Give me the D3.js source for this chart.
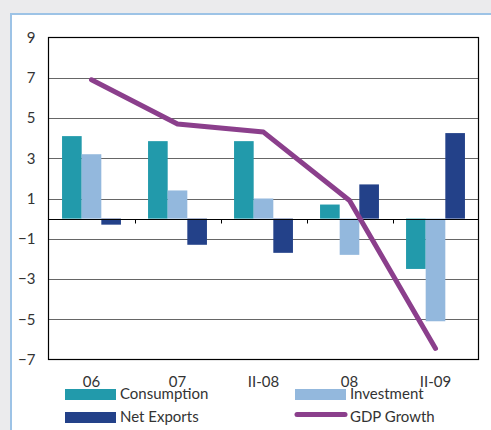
<!DOCTYPE html>
<html><head><meta charset="utf-8">
<script src="https://cdn.jsdelivr.net/npm/d3@7"></script>
<style>
html,body{margin:0;padding:0;background:#ebebed;}
svg{display:block;}
text{font-family:Lato,"Noto Sans",sans-serif;fill:#333;}
</style></head>
<body>
<svg id="c" width="491" height="430"></svg>
<script>
const categories = ["06","07","II-08","08","II-09"];
const consumption = [4.1, 3.85, 3.85, 0.7, -2.5];
const investment = [3.2, 1.4, 1.0, -1.8, -5.1];
const netExports = [-0.3, -1.3, -1.7, 1.7, 4.25];
const gdpGrowth = [6.9, 4.7, 4.3, 0.9, -6.45];
const yTicks = [9,7,5,3,1,-1,-3,-5,-7];

const seriesNames = ["Consumption","Investment","Net Exports"];
const seriesData = [consumption, investment, netExports];
const colors = ["#229aab","#93b8dd","#234189"];
const lineColor = "#8b3f8c";

const svg = d3.select("#c");
// panel
svg.append("rect").attr("x",0).attr("y",0).attr("width",491).attr("height",430).attr("fill","#ebebed");
svg.append("rect").attr("x",11).attr("y",14).attr("width",500).attr("height",440)
  .attr("fill","#fff").attr("stroke","#9dc3e6").attr("stroke-width",2);

const L=48.5, R=478.5, T=37.5, B=359.5;
const x = d3.scaleBand().domain(categories).range([L,R]).paddingInner(0.315).paddingOuter(0.1575);
const y = d3.scaleLinear().domain([-7,9]).range([B,T]);
const xs = d3.scaleBand().domain(d3.range(3)).range([0,x.bandwidth()]);

// gridlines
svg.append("g").selectAll("line").data(yTicks.filter(v=>v!==9&&v!==-7)).join("line")
  .attr("x1",L).attr("x2",R).attr("y1",d=>Math.round(y(d))+0.5).attr("y2",d=>Math.round(y(d))+0.5)
  .attr("stroke","#666").attr("stroke-width",1.2);

// bars
const g = svg.append("g");
seriesData.forEach((arr,si)=>{
  g.selectAll(null).data(arr).join("rect")
    .attr("x",(d,i)=>x(categories[i])+xs(si))
    .attr("width",xs.bandwidth())
    .attr("y",d=>y(Math.max(0,d)))
    .attr("height",d=>Math.abs(y(d)-y(0)))
    .attr("fill",colors[si]);
});

// frame
svg.append("rect").attr("x",L).attr("y",T).attr("width",R-L).attr("height",B-T)
  .attr("fill","none").attr("stroke","#000").attr("stroke-width",1.2);

// zero axis with ticks
const y0 = Math.round(y(0))+0.5;
svg.append("line").attr("x1",L).attr("x2",R).attr("y1",y0).attr("y2",y0).attr("stroke","#000").attr("stroke-width",1.2);
const bounds = categories.slice(1).map(c=>x(c)-x.step()*x.paddingInner()/2);
svg.append("g").selectAll("line").data(bounds).join("line")
  .attr("x1",d=>Math.round(d)+0.5).attr("x2",d=>Math.round(d)+0.5)
  .attr("y1",y0).attr("y2",y0+4).attr("stroke","#000").attr("stroke-width",1);

// y axis labels
const yAxis = d3.axisLeft(y).tickValues(yTicks).tickSize(0).tickPadding(13).tickFormat(d3.format("d"));
const ya = svg.append("g").attr("transform",`translate(${L},0)`).call(yAxis);
ya.select(".domain").remove();
ya.selectAll("text").style("font-size","15px").style("font-family","Lato, 'Noto Sans', sans-serif").attr("fill","#333");

// x labels
svg.append("g").selectAll("text").data(categories).join("text")
  .attr("x",d=>x(d)+x.bandwidth()/2).attr("y",387)
  .attr("text-anchor","middle").style("font-size","15px").text(d=>d);

// GDP line
const line = d3.line().x((d,i)=>x(categories[i])+x.bandwidth()/2).y(d=>y(d));
svg.append("path").datum(gdpGrowth).attr("d",line).attr("fill","none")
  .attr("stroke",lineColor).attr("stroke-width",5).attr("stroke-linecap","round").attr("stroke-linejoin","round");

// legend
const leg = [
  {name:"Consumption", type:"bar", color:colors[0], x:65, y:389},
  {name:"Investment", type:"bar", color:colors[1], x:295, y:389},
  {name:"Net Exports", type:"bar", color:colors[2], x:65, y:412},
  {name:"GDP Growth", type:"line", color:lineColor, x:295, y:412}
];
leg.forEach(l=>{
  if(l.type==="bar"){
    svg.append("rect").attr("x",l.x).attr("y",l.y).attr("width",51).attr("height",11).attr("fill",l.color);
  } else {
    svg.append("line").attr("x1",l.x+2).attr("x2",l.x+50).attr("y1",l.y+2.5).attr("y2",l.y+2.5)
      .attr("stroke",l.color).attr("stroke-width",5).attr("stroke-linecap","round");
  }
  svg.append("text").attr("x",l.x+55).attr("y",l.y+10).style("font-size","15px").text(l.name);
});
</script>
</body></html>
